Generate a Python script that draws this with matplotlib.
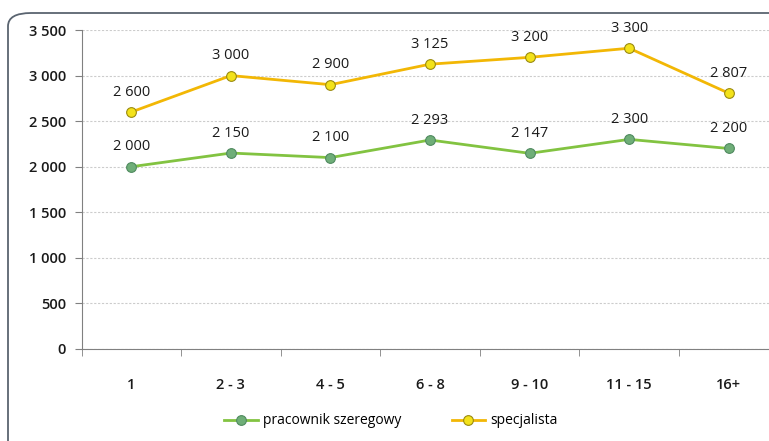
import matplotlib.pyplot as plt
from matplotlib.patches import FancyBboxPatch
from matplotlib.lines import Line2D

categories = ["1", "2 - 3", "4 - 5", "6 - 8", "9 - 10", "11 - 15", "16+"]
szeregowy = [2000, 2150, 2100, 2293, 2147, 2300, 2200]
specjalista = [2600, 3000, 2900, 3125, 3200, 3300, 2807]
y_ticks = [0, 500, 1000, 1500, 2000, 2500, 3000, 3500]


def fmt(v):
    return f"{v:,}".replace(",", " ")


plt.rcParams["font.family"] = ["Open Sans", "DejaVu Sans"]

fig = plt.figure(figsize=(7.69, 4.41), dpi=100)
W, H = 769, 441

# rounded chart frame, running off the right and bottom edges
frame = FancyBboxPatch((8 / W, -20 / H), 800 / W, (441 - 13 + 20) / H,
                       boxstyle="round,pad=0,rounding_size=0.03",
                       transform=fig.transFigure, fill=False,
                       edgecolor="#5a6470", linewidth=1.3, zorder=0)
fig.patches.append(frame)

ax = fig.add_axes([81.5 / W, (H - 349) / H, 697 / W, 319 / H])
ax.set_facecolor("none")
x = list(range(len(categories)))

green_line, green_fill, green_edge = "#82c341", "#6fae78", "#4f8a5f"
yel_line, yel_fill, yel_edge = "#f2b705", "#f3e21a", "#9a8a10"

ax.plot(x, szeregowy, color=green_line, lw=2, marker="o", ms=7,
        mfc=green_fill, mec=green_edge, mew=0.8, zorder=3)
ax.plot(x, specjalista, color=yel_line, lw=2, marker="o", ms=7,
        mfc=yel_fill, mec=yel_edge, mew=0.8, zorder=3)

for series in (szeregowy, specjalista):
    for xi, v in zip(x, series):
        ax.annotate(fmt(v), (xi, v), xytext=(0, 9), textcoords="offset points",
                    ha="center", va="bottom", fontsize=10.5, color="#1a1a1a")

ax.set_xlim(-0.5, len(categories) - 0.5)
ax.set_ylim(0, 3500)
ax.set_yticks(y_ticks)
ax.set_yticklabels([fmt(v) for v in y_ticks], fontsize=10.5,
                   fontweight="semibold", color="#1a1a1a")
ax.set_xticks(x)
ax.set_xticklabels(categories, fontsize=10.5, fontweight="semibold",
                   color="#1a1a1a")
ax.set_xticks([i + 0.5 for i in range(-1, len(categories))], minor=True)
ax.tick_params(axis="x", which="major", length=0, pad=21)
ax.tick_params(axis="x", which="minor", length=5, color="#808080")
ax.tick_params(axis="y", length=5, color="#808080", pad=6)

ax.grid(axis="y", color="#cccccc", lw=0.8, ls=(0, (2, 1.5)))
for s in ("top", "right"):
    ax.spines[s].set_visible(False)
for s in ("left", "bottom"):
    ax.spines[s].set_color("#808080")

handles = [
    Line2D([], [], color=green_line, lw=2, marker="o", ms=7,
           mfc=green_fill, mec=green_edge, mew=0.8),
    Line2D([], [], color=yel_line, lw=2, marker="o", ms=7,
           mfc=yel_fill, mec=yel_edge, mew=0.8),
]
fig.legend(handles, ["pracownik szeregowy", "specjalista"],
           loc="center", bbox_to_anchor=(391 / W, (H - 421) / H), ncol=2,
           frameon=False, fontsize=10, handlelength=2.4,
           handletextpad=0.4, columnspacing=3.6)

fig.savefig("out.png", dpi=100)
